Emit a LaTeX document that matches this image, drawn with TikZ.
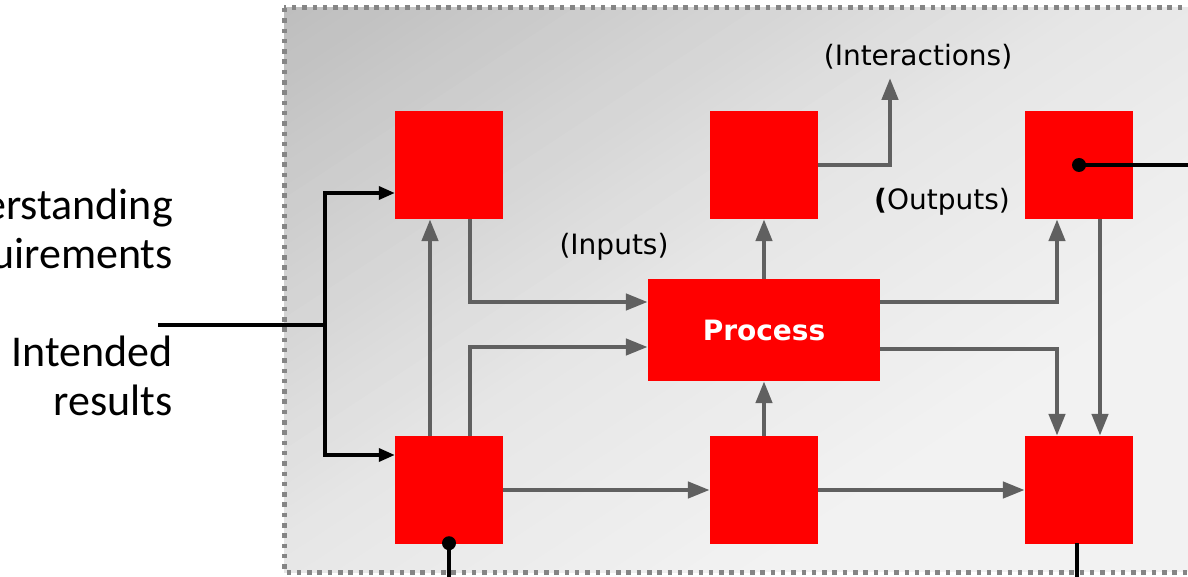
\documentclass[tikz,border=0pt]{standalone}
\usepackage{fontspec}
\setmainfont{DejaVu Sans}
\newfontfamily\sidefont{Carlito}
\usepackage{tikz}
\usetikzlibrary{arrows.meta}

\definecolor{boxred}{HTML}{FF0000}
\definecolor{flowgray}{HTML}{606060}
\definecolor{framegray}{HTML}{858585}
\definecolor{shadedark}{HTML}{BEBEBE}
\definecolor{shademid}{HTML}{E6E6E6}
\definecolor{shadelight}{HTML}{F2F2F2}

\tikzset{
	tag/.style={font=\fontsize{28}{34}\selectfont, inner sep=0pt},
	side/.style={font=\sidefont\fontsize{44}{49}\selectfont, align=right, inner sep=0pt}
}

\begin{document}
\begin{tikzpicture}[x=1pt,y=-1pt]
	\useasboundingbox (0,0) rectangle (1188,577);
	\clip (0,0) rectangle (1188,577);

	% frame, shaded in bands from the top left corner
	\begin{scope}
		\clip (284,8) rectangle (1230,572);
		\fill[shadelight] (284,8) rectangle (1230,572);
		\foreach \t in {0,10,...,720} {
			\pgfmathtruncatemacro\p{min(100,\t/4.4)}
			\pgfmathtruncatemacro\q{max(0,min(100,(\t-440)/2.8))}
			\colorlet{bandtone}{shademid!\p!shadedark}
			\colorlet{bandtone}{shadelight!\q!bandtone}
			\fill[bandtone]
				({284+(\t-1)*0.549+1200*0.836},{8+(\t-1)*0.836-1200*0.549}) --
				({284+(\t+11)*0.549+1200*0.836},{8+(\t+11)*0.836-1200*0.549}) --
				({284+(\t+11)*0.549-1200*0.836},{8+(\t+11)*0.836+1200*0.549}) --
				({284+(\t-1)*0.549-1200*0.836},{8+(\t-1)*0.836+1200*0.549}) -- cycle;
		}
	\end{scope}
	\draw[framegray, line width=5pt, dash pattern=on 4.5pt off 5.8pt] (284,8) rectangle (1230,572);

	\begin{scope}[every node/.style={fill=boxred, minimum size=108pt, inner sep=0pt}]
		\node (nw) at (449,165) {};
		\node (n) at (764,165) {};
		\node (ne) at (1079,165) {};
		\node (sw) at (449,490) {};
		\node (s) at (764,490) {};
		\node (se) at (1079,490) {};
		\node[minimum width=232pt, minimum height=102pt, text=white,
		      font=\bfseries\fontsize{28}{34}\selectfont] (proc) at (764,330) {Process};
	\end{scope}

	\node[tag] (inputs) at (614,247) {(Inputs)};
	\node[tag] (outputs) at (942,202) {\textbf{(}Outputs)};
	\node[tag] (interactions) at (918,57) {(Interactions)};
	\node[side, anchor=east] (needs) at (173,232) {Understanding\\requirements};
	\node[side, anchor=east] (intent) at (173,376) {Intended\\results};

	\begin{scope}[color=flowgray, line width=4.5pt, >={Triangle[length=22pt,width=16pt]}]
		\coordinate (up) at (890,78);
		\draw[->] ([xshift=21pt]nw.south) |- ([yshift=28pt]proc.west);
		\draw[->] ([xshift=21pt]sw.north) |- ([yshift=-17pt]proc.west);
		\draw[->] ([xshift=-19pt]sw.north) -- ([xshift=-19pt]nw.south);
		\draw[->] (proc.north) -- (n.south);
		\draw[->] (n.east) -| (up);
		\draw[->] ([yshift=28pt]proc.east) -| ([xshift=-22pt]ne.south);
		\draw[->] ([yshift=-19pt]proc.east) -| ([xshift=-22pt]se.north);
		\draw[->] ([xshift=21pt]ne.south) -- ([xshift=21pt]se.north);
		\draw[->] (s.north) -- (proc.south);
		\draw[->] (sw.east) -- (s.west);
		\draw[->] (s.east) -- (se.west);
	\end{scope}

	\begin{scope}[color=black, line width=3.5pt, >={Triangle[length=16pt,width=13pt]}]
		\coordinate (src) at (158,325);
		\coordinate (split) at (325,325);
		\draw (src) -- (split);
		\draw[->] (split) |- ([yshift=-28pt]nw.west);
		\draw[->] (split) |- ([yshift=35pt]sw.west);
		\fill ([yshift=1pt]sw.south) circle (7pt);
		\draw ([yshift=1pt]sw.south) -- ++(0,40);
		\fill (ne.center) circle (7pt);
		\draw (ne.center) -- ++(130,0);
		\draw ([xshift=-2pt,yshift=1pt]se.south) -- ++(0,40);
	\end{scope}
\end{tikzpicture}
\end{document}
